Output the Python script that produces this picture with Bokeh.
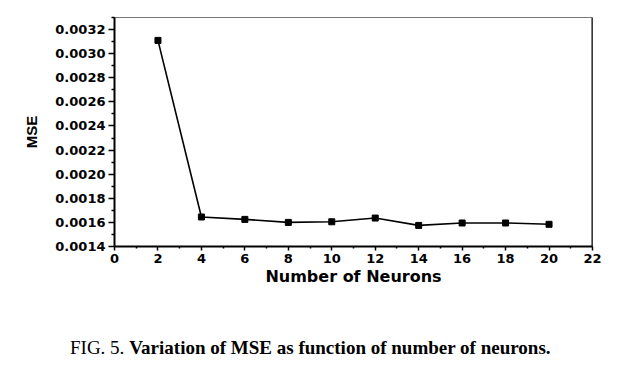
from bokeh.plotting import figure
from bokeh.layouts import column
from bokeh.models import Range1d, FixedTicker, PrintfTickFormatter, Div
from bokeh.embed import file_html
from bokeh.resources import INLINE

neurons = [2, 4, 6, 8, 10, 12, 14, 16, 18, 20]
mse = [0.00311, 0.001645, 0.001625, 0.0016, 0.001605, 0.001636, 0.001575, 0.001595, 0.001595, 0.001584]
x_ticks = list(range(0, 23, 2))
y_ticks = [0.0014, 0.0016, 0.0018, 0.0020, 0.0022, 0.0024, 0.0026, 0.0028, 0.0030, 0.0032]
caption_fig = "FIG. 5."
caption_text = "Variation of MSE as function of number of neurons."

p = figure(width=624, height=317, output_backend="svg", toolbar_location=None,
           x_range=Range1d(0, 22), y_range=Range1d(0.0014, 0.0033),
           min_border_left=114, min_border_right=32, min_border_top=17, min_border_bottom=71)

p.grid.visible = False
p.outline_line_color = "#777777"
p.outline_line_width = 1
p.background_fill_color = "white"
p.border_fill_color = "white"

p.line(neurons, mse, line_color="black", line_width=1.6)
p.scatter(neurons, mse, marker="square", size=6, fill_color="black", line_color="black")

# right black frame edge
p.segment(x0=[22], y0=[0.0014], x1=[22], y1=[0.0033], line_color="black", line_width=2)

xa = p.xaxis[0]
xa.ticker = FixedTicker(ticks=x_ticks, minor_ticks=list(range(1, 22, 2)))
xa.formatter = PrintfTickFormatter(format="%d")
xa.axis_label = "Number of Neurons"
ya = p.yaxis[0]
ya.ticker = FixedTicker(ticks=y_ticks, minor_ticks=[0.0015, 0.0017, 0.0019, 0.0021, 0.0023, 0.0025, 0.0027, 0.0029, 0.0031, 0.0033])
ya.formatter = PrintfTickFormatter(format="%.4f")
ya.axis_label = "MSE"

for ax in (xa, ya):
    ax.axis_line_width = 2
    ax.axis_line_color = "black"
    ax.major_tick_line_width = 1.5
    ax.minor_tick_line_width = 1.5
    ax.major_tick_in = 0
    ax.minor_tick_in = 0
    ax.major_label_text_font = "DejaVu Sans"
    ax.major_label_text_font_style = "bold"
    ax.major_label_text_font_size = "13px"
    ax.major_label_text_color = "black"
    ax.axis_label_text_font = "DejaVu Sans"
    ax.axis_label_text_font_style = "bold"
    ax.axis_label_text_color = "black"

xa.major_tick_out = 4
xa.minor_tick_out = 2
xa.major_label_standoff = 3
xa.axis_label_text_font_size = "16px"
xa.axis_label_standoff = 1
ya.major_tick_out = 6
ya.minor_tick_out = 3
ya.major_label_standoff = 3
ya.axis_label_text_font = "Liberation Sans"
ya.axis_label_text_font_size = "15px"
ya.axis_label_standoff = 12

caption_html = (
    '<div style="padding-left:70px;padding-top:20px;line-height:22px;'
    'font-family:\'Liberation Serif\';font-size:19px;color:black;white-space:nowrap;">'
    + caption_fig + ' <b>' + caption_text + '</b></div>'
)
cap = Div(text=caption_html, width=624, height=50, styles={"margin": "0", "padding": "0"})

layout = column(p, cap, spacing=0)
open("out.html", "w").write(file_html(layout, INLINE))
